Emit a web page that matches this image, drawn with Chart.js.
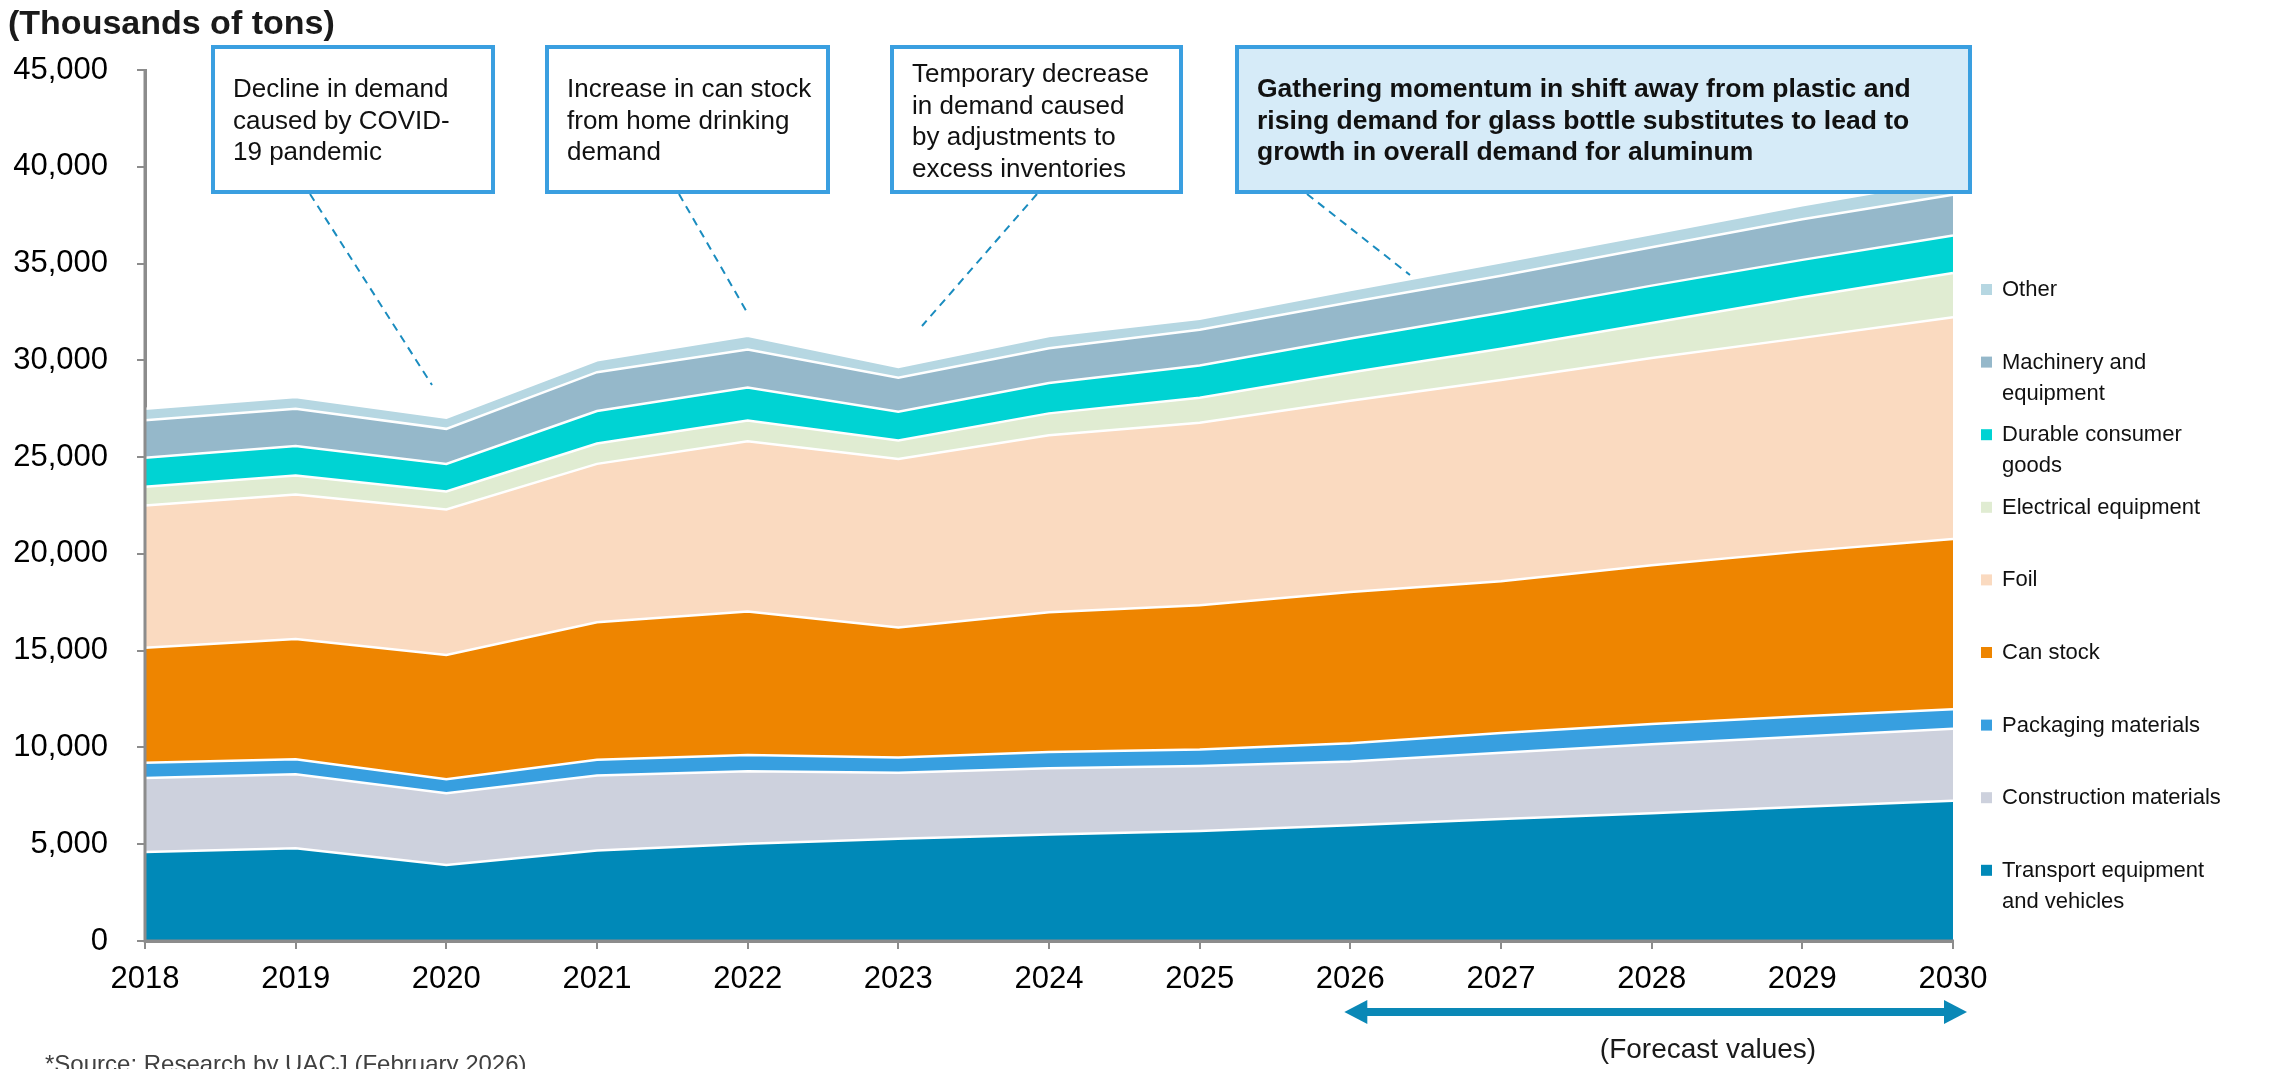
<!DOCTYPE html>
<html>
<head>
<meta charset="utf-8">
<title>Aluminum demand by end use</title>
<script src="https://cdn.jsdelivr.net/npm/chart.js@4/dist/chart.umd.min.js"></script>
<style>
  html, body { margin: 0; padding: 0; background: #fff; }
  #wrap { width: 2283px; height: 1069px; position: relative; }
</style>
</head>
<body>
<div id="wrap"><canvas id="chart" width="2283" height="1069"></canvas></div>
<script>
// Demand by end use, thousands of tons (2026 onward are forecasts)
const years = ['2018','2019','2020','2021','2022','2023','2024','2025','2026','2027','2028','2029','2030'];
const transport    = [4600, 4790, 3930, 4670, 5020, 5285, 5500, 5680, 5985, 6300, 6600, 6930, 7250];
const construction = [3820, 3830, 3710, 3880, 3755, 3405, 3430, 3360, 3295, 3430, 3560, 3640, 3720];
const packaging    = [ 790,  775,  720,  820,  830,  785,  830,  850,  935, 1020, 1050, 1040, 1000];
const canStock     = [5940, 6205, 6415, 7095, 7420, 6725, 7220, 7460, 7815, 7840, 8200, 8520, 8800];
const foil         = [7350, 7470, 7515, 8185, 8795, 8705, 9145, 9430, 9885,10390,10710,11030,11460];
const electrical   = [ 970,  980,  930, 1050, 1070,  960, 1135, 1290, 1460, 1620, 1810, 2100, 2280];
const durable      = [1500, 1520, 1430, 1680, 1700, 1485, 1570, 1660, 1750, 1860, 1930, 1930, 1940];
const machinery    = [1940, 1930, 1810, 2010, 1965, 1745, 1790, 1850, 1880, 1910, 1980, 2100, 2110];
const other        = [ 590,  600,  570,  610,  720,  565,  635,  570,  625,  700,  680,  720,  800];

const seriesNames = [
  ['Transport equipment', 'and vehicles'],
  ['Construction materials'],
  ['Packaging materials'],
  ['Can stock'],
  ['Foil'],
  ['Electrical equipment'],
  ['Durable consumer', 'goods'],
  ['Machinery and', 'equipment'],
  ['Other']
];
const seriesData = [transport, construction, packaging, canStock, foil, electrical, durable, machinery, other];
const seriesColors = ['#0089B8', '#CDD1DD', '#379FE0', '#EE8500', '#FADAC0', '#E0ECD2', '#00D3D3', '#95B8CA', '#B6D7E2'];

const yTicks = [0, 5000, 10000, 15000, 20000, 25000, 30000, 35000, 40000, 45000];

const callouts = [
  { box: [213, 47, 493, 192], lines: ['Decline in demand', 'caused by COVID-', '19 pandemic'], first: 97,
    bold: false, fill: '#FFFFFF', leader: [[310, 194], [432, 385]] },
  { box: [547, 47, 828, 192], lines: ['Increase in can stock', 'from home drinking', 'demand'], first: 97,
    bold: false, fill: '#FFFFFF', leader: [[679, 194], [748, 314]] },
  { box: [892, 47, 1181, 192], lines: ['Temporary decrease', 'in demand caused', 'by adjustments to', 'excess inventories'], first: 82,
    bold: false, fill: '#FFFFFF', leader: [[1037, 194], [922, 326]] },
  { box: [1237, 47, 1970, 192], lines: ['Gathering momentum in shift away from plastic and', 'rising demand for glass bottle substitutes to lead to', 'growth in overall demand for aluminum'], first: 97,
    bold: true, fill: '#D6EBF8', leader: [[1307, 194], [1410, 275]] }
];

const FONT = '"Liberation Sans", Arial, Helvetica, sans-serif';
const AXIS_GREY = '#8C8C8C';

const datasets = seriesData.map((d, i) => ({
  label: seriesNames[i].join(' '),
  data: d,
  backgroundColor: seriesColors[i],
  borderColor: '#FFFFFF',
  borderWidth: 2.5,
  fill: i === 0 ? 'origin' : '-1',
  pointRadius: 0,
  pointHoverRadius: 0,
  tension: 0
}));

const decorations = {
  id: 'decorations',
  afterDatasetsDraw(chart) {
    // keep both axis lines visible above the filled areas
    const ctx = chart.ctx, a = chart.chartArea;
    ctx.save();
    ctx.strokeStyle = AXIS_GREY;
    ctx.lineWidth = 3;
    ctx.beginPath();
    ctx.moveTo(a.left, a.top - 1);
    ctx.lineTo(a.left, a.bottom);
    ctx.lineTo(a.right + 1, a.bottom);
    ctx.stroke();
    ctx.restore();
  },
  afterDraw(chart) {
    const ctx = chart.ctx;
    ctx.save();

    // unit caption
    ctx.fillStyle = '#1a1a1a';
    ctx.font = 'bold 34px ' + FONT;
    ctx.textAlign = 'left';
    ctx.textBaseline = 'alphabetic';
    ctx.fillText('(Thousands of tons)', 8, 34);

    // leader lines
    ctx.strokeStyle = '#1A8CBF';
    ctx.lineWidth = 2;
    ctx.setLineDash([8, 6]);
    callouts.forEach(c => {
      ctx.beginPath();
      ctx.moveTo(c.leader[0][0], c.leader[0][1]);
      ctx.lineTo(c.leader[1][0], c.leader[1][1]);
      ctx.stroke();
    });
    ctx.setLineDash([]);

    // callout boxes
    callouts.forEach(c => {
      const [x0, y0, x1, y1] = c.box;
      ctx.fillStyle = c.fill;
      ctx.fillRect(x0, y0, x1 - x0, y1 - y0);
      ctx.strokeStyle = '#3A9FE0';
      ctx.lineWidth = 4;
      ctx.strokeRect(x0, y0, x1 - x0, y1 - y0);
      ctx.fillStyle = '#111111';
      ctx.font = (c.bold ? 'bold 26.5px ' : '26px ') + FONT;
      ctx.textAlign = 'left';
      c.lines.forEach((t, k) => ctx.fillText(t, x0 + 20, c.first + k * 31.6));
    });

    // legend, top to bottom in reverse stacking order
    ctx.font = '22px ' + FONT;
    ctx.textBaseline = 'middle';
    const legendTop = 290, legendStep = 72.6;
    for (let k = 0; k < seriesNames.length; k++) {
      const i = seriesNames.length - 1 - k;
      const y = legendTop + k * legendStep;
      ctx.fillStyle = seriesColors[i];
      ctx.fillRect(1981, y - 6, 11, 11);
      ctx.fillStyle = '#111111';
      seriesNames[i].forEach((t, j) => ctx.fillText(t, 2002, y + j * 31));
    }

    // forecast span arrow
    const xa = chart.scales.x;
    const ax0 = xa.getPixelForValue(8) - 6, ax1 = xa.getPixelForValue(12) + 14, ay = 1012;
    ctx.fillStyle = '#0A88B6';
    ctx.fillRect(ax0 + 20, ay - 4, ax1 - ax0 - 40, 8);
    ctx.beginPath();
    ctx.moveTo(ax0, ay); ctx.lineTo(ax0 + 23, ay - 12); ctx.lineTo(ax0 + 23, ay + 12); ctx.closePath(); ctx.fill();
    ctx.beginPath();
    ctx.moveTo(ax1, ay); ctx.lineTo(ax1 - 23, ay - 12); ctx.lineTo(ax1 - 23, ay + 12); ctx.closePath(); ctx.fill();

    ctx.fillStyle = '#1a1a1a';
    ctx.font = '28px ' + FONT;
    ctx.textAlign = 'center';
    ctx.textBaseline = 'middle';
    ctx.fillText('(Forecast values)', 1708, 1050);

    // source note
    ctx.fillStyle = '#404040';
    ctx.font = '24px ' + FONT;
    ctx.textAlign = 'left';
    ctx.textBaseline = 'alphabetic';
    ctx.fillText('*Source: Research by UACJ (February 2026)', 45, 1072);

    ctx.restore();
  }
};

new Chart(document.getElementById('chart'), {
  type: 'line',
  data: { labels: years, datasets },
  options: {
    responsive: false,
    animation: false,
    devicePixelRatio: 1,
    layout: { padding: { top: 70, right: 330, bottom: 68, left: 0 } },
    plugins: {
      legend: { display: false },
      tooltip: { enabled: false }
    },
    elements: { line: { borderJoinStyle: 'miter' } },
    scales: {
      x: {
        offset: false,
        grid: { display: true, drawOnChartArea: false, drawTicks: true, tickLength: 8, color: AXIS_GREY, lineWidth: 2 },
        border: { display: true, color: AXIS_GREY, width: 3 },
        ticks: { color: '#000', font: { family: FONT, size: 31 }, padding: 12, maxRotation: 0, autoSkip: false },
        afterFit(s) { s.height = 60; }
      },
      y: {
        stacked: true,
        min: 0,
        max: 45000,
        afterBuildTicks(s) { s.ticks = yTicks.map(v => ({ value: v })); },
        grid: { display: true, drawOnChartArea: false, drawTicks: true, tickLength: 8, color: AXIS_GREY, lineWidth: 2 },
        border: { display: true, color: AXIS_GREY, width: 3 },
        ticks: {
          color: '#000',
          font: { family: FONT, size: 31 },
          padding: 29,
          callback: v => v.toLocaleString('en-US')
        },
        afterFit(s) { s.width = 145; }
      }
    }
  },
  plugins: [decorations]
});
</script>
</body>
</html>
